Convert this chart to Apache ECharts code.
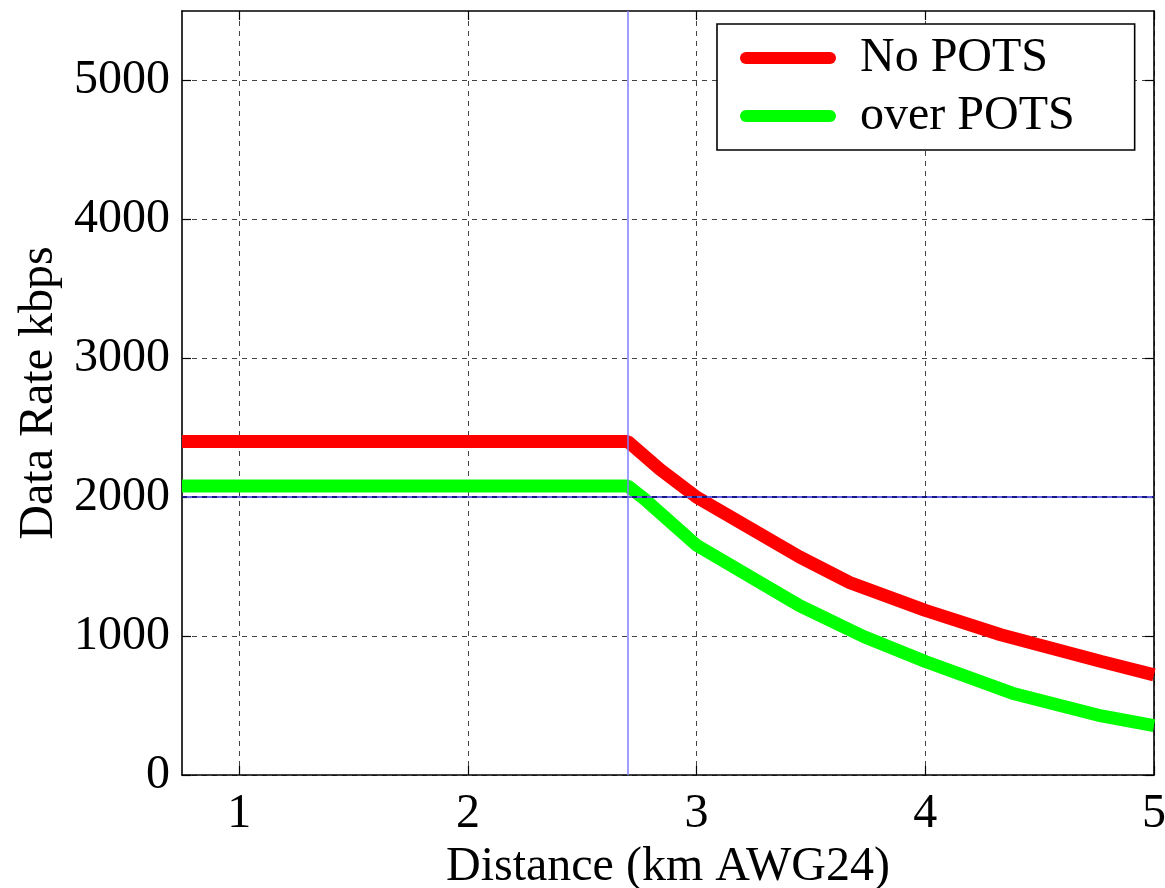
<!DOCTYPE html>
<html>
<head>
<meta charset="utf-8">
<script src="https://cdn.jsdelivr.net/npm/echarts@6/dist/echarts.min.js"></script>
<style>
html,body{margin:0;padding:0;background:#fff;}
#chart{width:1165px;height:888px;}
</style>
</head>
<body>
<div id="chart"></div>
<script>
// ---- data ----
const xTicks = [1, 2, 3, 4, 5];
const yTicks = [0, 1000, 2000, 3000, 4000, 5000];
const seriesNames = ['No POTS', 'over POTS'];
const distNoPots = [0.75, 2.7, 2.84, 3.0, 3.45, 3.67, 4.0, 4.33, 4.77, 5.0];
const rateNoPots = [2400, 2400, 2200, 2000, 1570, 1385, 1185, 1010, 817, 721];
const distOverPots = [0.75, 2.7, 2.77, 3.0, 3.45, 3.73, 4.0, 4.38, 4.77, 5.0];
const rateOverPots = [2080, 2080, 1990, 1654, 1220, 997, 817, 589, 425, 355];
const markerDistance = 2.7;
const markerRate = 2000;

const FONT = '"Liberation Serif", "Times New Roman", serif';
const FS = 48;
const pair = (xs, ys) => xs.map((x, i) => [x, ys[i]]);

const chart = echarts.init(document.getElementById('chart'));
const gridLine = { show: true, lineStyle: { color: '#444', type: [5, 5], width: 1 } };
const axisLine = { show: true, onZero: false, lineStyle: { color: '#000', width: 1.6 } };
const legendIcon = 'path://M6,0 H90 A6,6 0 0 1 90,12 H6 A6,6 0 0 1 6,0 Z';

chart.setOption({
  animation: false,
  backgroundColor: '#fff',
  grid: { left: 182, right: 11, top: 11, bottom: 113, containLabel: false, outerBoundsMode: 'none' },
  legend: {
    orient: 'vertical',
    left: 717, top: 24,
    padding: [10, 60, 10, 23],
    itemGap: 10,
    itemWidth: 96, itemHeight: 12,
    backgroundColor: '#fff',
    borderColor: '#000', borderWidth: 1.6,
    textStyle: { fontFamily: FONT, fontSize: FS, color: '#000', lineHeight: 48, padding: [0, 0, 0, 19] },
    data: [
      { name: seriesNames[0], icon: legendIcon, itemStyle: { color: '#ff0000' } },
      { name: seriesNames[1], icon: legendIcon, itemStyle: { color: '#00ff00' } }
    ]
  },
  xAxis: [
    {
      type: 'value', min: 0.75, max: 5, position: 'bottom',
      name: 'Distance (km AWG24)', nameLocation: 'middle', nameGap: 59,
      nameTextStyle: { fontFamily: FONT, fontSize: FS, color: '#000' },
      axisLine: axisLine,
      axisTick: { show: true, inside: true, length: 9, customValues: xTicks, lineStyle: { color: '#000', width: 1.2 } },
      axisLabel: { customValues: xTicks, fontFamily: FONT, fontSize: FS, color: '#000', margin: 15 },
      splitLine: gridLine
    },
    {
      type: 'value', min: 0.75, max: 5, position: 'top',
      axisLine: axisLine,
      axisTick: { show: true, inside: true, length: 9, customValues: xTicks, lineStyle: { color: '#000', width: 1.2 } },
      axisLabel: { show: false },
      splitLine: { show: false }
    }
  ],
  yAxis: [
    {
      type: 'value', min: 0, max: 5500, position: 'left',
      name: 'Data Rate kbps', nameLocation: 'middle', nameGap: 115, nameRotate: 90,
      nameTextStyle: { fontFamily: FONT, fontSize: FS, color: '#000' },
      axisLine: axisLine,
      axisTick: { show: true, inside: true, length: 9, customValues: yTicks, lineStyle: { color: '#000', width: 1.2 } },
      axisLabel: { customValues: yTicks, formatter: v => String(v), fontFamily: FONT, fontSize: FS, color: '#000', margin: 12 },
      splitLine: gridLine
    },
    {
      type: 'value', min: 0, max: 5500, position: 'right',
      axisLine: axisLine,
      axisTick: { show: true, inside: true, length: 9, customValues: yTicks, lineStyle: { color: '#000', width: 1.2 } },
      axisLabel: { show: false },
      splitLine: { show: false }
    }
  ],
  series: [
    {
      name: seriesNames[0], type: 'line', z: 2, symbol: 'none', smooth: false,
      lineStyle: { color: '#ff0000', width: 13 }, itemStyle: { color: '#ff0000' },
      data: pair(distNoPots, rateNoPots)
    },
    {
      name: seriesNames[1], type: 'line', z: 3, symbol: 'none', smooth: false,
      lineStyle: { color: '#00ff00', width: 13 }, itemStyle: { color: '#00ff00' },
      data: pair(distOverPots, rateOverPots)
    },
    {
      name: 'markers', type: 'line', z: 4, symbol: 'none', data: [],
      markLine: {
        silent: true, symbol: 'none', animation: false,
        label: { show: false },
        data: [
          { xAxis: markerDistance, lineStyle: { color: '#7f7fff', width: 1.5, type: 'solid' } },
          { yAxis: markerRate, lineStyle: { color: '#6060e0', width: 2, type: 'solid' } },
          { yAxis: markerRate, lineStyle: { color: '#000060', width: 1.5, type: [5, 5] } }
        ]
      }
    }
  ]
});
</script>
</body>
</html>
